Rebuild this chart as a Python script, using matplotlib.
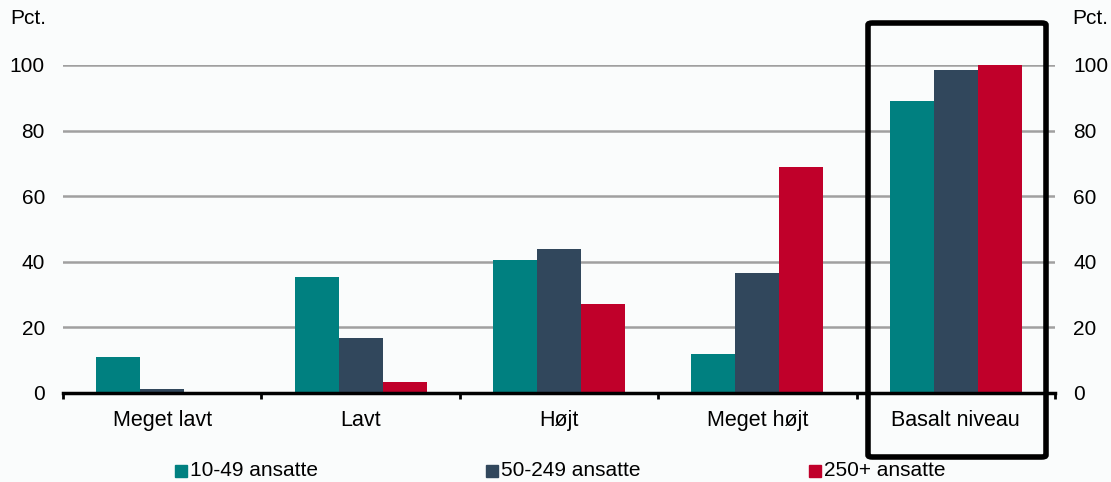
import matplotlib
matplotlib.use('Agg')
import matplotlib.pyplot as plt
import matplotlib.patches as mpatches
import numpy as np

plt.rcParams.update({
    'font.family': ['Liberation Sans', 'DejaVu Sans'],
    'font.size': 15,
})

categories = ['Meget lavt', 'Lavt', 'Højt', 'Meget højt', 'Basalt niveau']
small = [10.9, 35.3, 40.6, 11.9, 89.0]      # 10-49 ansatte
medium = [1.3, 16.7, 43.9, 36.7, 98.5]      # 50-249 ansatte
large = [0.0, 3.3, 27.1, 68.8, 100.0]       # 250+ ansatte
series_labels = ['10-49 ansatte', '50-249 ansatte', '250+ ansatte']
colors = ['#008080', '#31475C', '#C0002A']
yticks = [0, 20, 40, 60, 80, 100]

BG = '#FAFCFC'
W, H = 1111, 482

fig = plt.figure(figsize=(W / 100, H / 100), dpi=100, facecolor=BG)
ax = fig.add_axes([63 / W, 1 - 393 / H, (1055 - 63) / W, (393 - 65) / H])
ax.set_facecolor(BG)

x = np.arange(len(categories))
w = 0.222
for i, (vals, c) in enumerate(zip([small, medium, large], colors)):
    ax.bar(x + (i - 1) * w, vals, w, color=c, zorder=3, clip_on=False)

ax.set_xlim(-0.5, len(categories) - 0.5)
ax.set_ylim(0, 100)
ax.set_yticks(yticks)
ax.yaxis.grid(True, color='#A0A0A0', linewidth=1.8, zorder=1)
ax.tick_params(axis='y', length=0, pad=13, labelleft=True, labelright=True)

# category boundaries as ticks on the x axis
ax.set_xticks(np.arange(len(categories) + 1) - 0.5)
ax.set_xticklabels([])
ax.set_xticks(x, minor=True)
ax.set_xticklabels(categories, minor=True, fontsize=15.5)
ax.tick_params(axis='x', which='major', direction='out', length=4, width=2, color='black')
ax.tick_params(axis='x', which='minor', length=0, pad=12)

for s in ['top', 'left', 'right']:
    ax.spines[s].set_visible(False)
ax.spines['bottom'].set_linewidth(2.5)
ax.spines['bottom'].set_zorder(4)

fig.text(10 / W, 1 - 19 / H, 'Pct.', ha='left', va='center')
fig.text(1072 / W, 1 - 19 / H, 'Pct.', ha='left', va='center')

# highlight box around last category
box = mpatches.FancyBboxPatch((868 / W, 1 - 457 / H), (1046 - 868) / W, (457 - 23) / H,
                              boxstyle='round,pad=0,rounding_size=0.004',
                              transform=fig.transFigure, fill=False,
                              edgecolor='black', linewidth=4, zorder=10)
fig.patches.append(box)

# legend, drawn by hand to match spacing
leg_x = [175, 486, 809]
leg_y = 471
for lx, lab, c in zip(leg_x, series_labels, colors):
    fig.patches.append(mpatches.Rectangle((lx / W, 1 - (leg_y + 6) / H), 12 / W, 12 / H,
                                          transform=fig.transFigure, color=c))
    fig.text((lx + 15) / W, 1 - leg_y / H, lab, ha='left', va='center')

fig.savefig('out.png', dpi=100, facecolor=BG)
